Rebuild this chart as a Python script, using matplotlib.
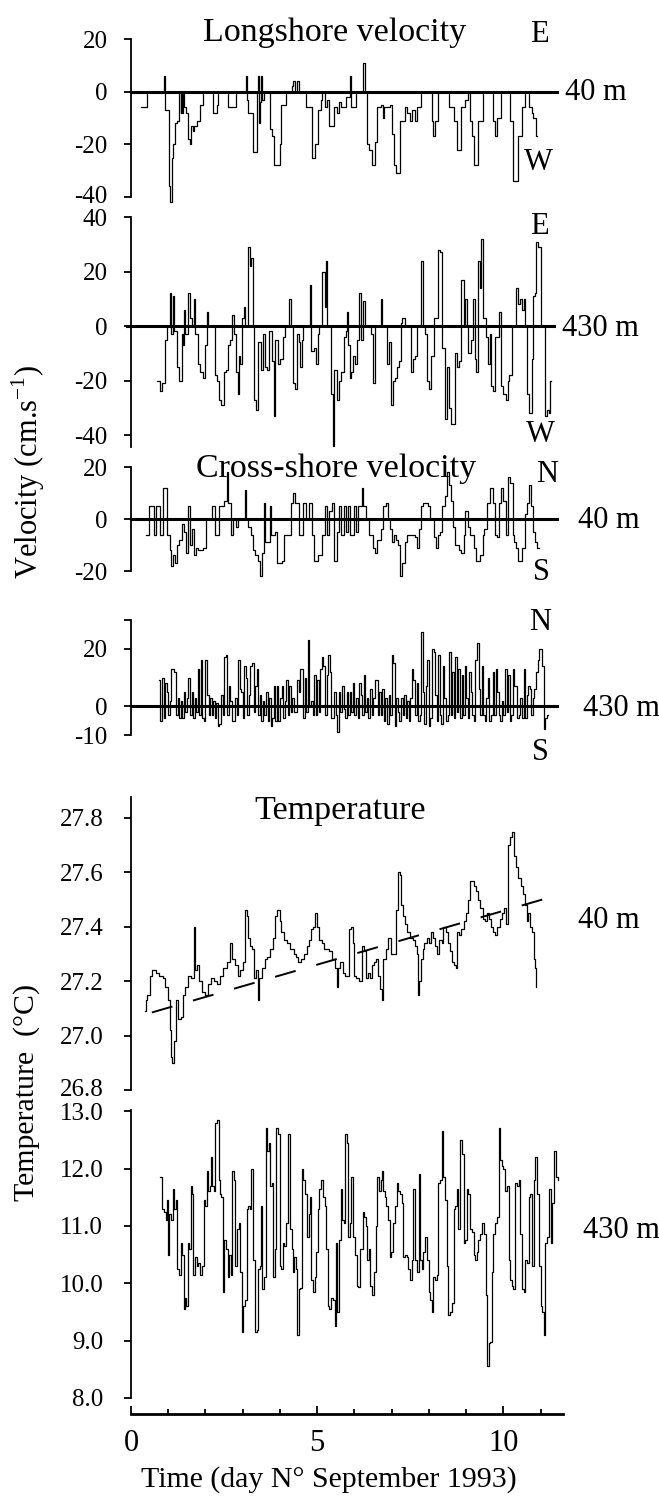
import numpy as np
import matplotlib
matplotlib.use('Agg')
import matplotlib.pyplot as plt
from matplotlib.ticker import FixedLocator, MultipleLocator, FormatStrFormatter

plt.rcParams['font.family'] = ['Liberation Serif', 'DejaVu Serif']
plt.rcParams['mathtext.fontset'] = 'custom'
plt.rcParams['mathtext.rm'] = 'Liberation Serif'
plt.rcParams['axes.unicode_minus'] = False

# ---------------------------------------------------------------------------
# data (time in days of September 1993)
# ---------------------------------------------------------------------------
# longshore velocity, 40 m (cm/s), step change points
long40_t = [0.28, 0.42, 0.88, 0.91, 1.02, 1.06, 1.10, 1.14, 1.18, 1.24,
            1.30, 1.33, 1.35, 1.38, 1.40, 1.43, 1.47, 1.53, 1.58, 1.62,
            1.66, 1.70, 1.76, 1.86, 1.92, 2.20, 2.30, 2.33, 2.60, 2.83,
            3.09, 3.12, 3.14, 3.28, 3.39, 3.41, 3.43, 3.47, 3.50, 3.53,
            3.56, 3.73, 3.79, 3.84, 3.99, 4.04, 4.16, 4.32, 4.36, 4.41,
            4.46, 4.52, 4.69, 4.86, 4.95, 5.03, 5.10, 5.14, 5.20, 5.26,
            5.33, 5.45, 5.52, 5.59, 5.65, 5.76, 5.88, 5.92, 6.05, 6.24,
            6.27, 6.33, 6.40, 6.46, 6.55, 6.61, 6.70, 6.76, 6.80, 6.95,
            7.01, 7.06, 7.12, 7.21, 7.35, 7.42, 7.48, 7.55, 7.62, 7.69,
            7.80, 8.08, 8.12, 8.17, 8.25, 8.53, 8.68, 8.76, 8.87, 8.98,
            9.04, 9.10, 9.15, 9.21, 9.32, 9.44, 9.72, 9.78, 9.83, 9.94,
            10.19, 10.26, 10.40, 10.51, 10.57, 10.68, 10.76, 10.80, 10.87, 10.90]
long40_v = [-6, 0, 6, -7, -36, -42, -25, -20, -12, -11,
            0, -8, 0, -8, 0, -6, -8, -18, -20, -13,
            -15, -13, -11, -5, 0, -8, -5, 0, -6, 0,
            6, -3, -8, -23, 0, 6, -12, -4, 6, -3,
            0, -14, -17, -28, -20, -5, 0, 2, 4, 0,
            4, 0, -6, -25, -20, -7, -3, 0, -6, -3,
            -13, -6, -8, -4, -6, -2, 6, -6, 0, 11,
            0, -20, -22, -28, -19, -6, -5, -10, -6, -5,
            -16, -28, -31, -11, -6, -8, -11, -7, -11, -6,
            0, -11, -17, -11, 0, -6, -11, -22, -6, -3,
            0, -11, -17, -28, -11, 0, -11, -17, -10, 0,
            -11, -34, -17, -6, 0, -6, -8, -10, -17, -17]

# longshore velocity, 430 m
long430_t = [0.70, 0.77, 0.83, 0.90, 0.97, 1.05, 1.08, 1.13, 1.16, 1.24,
             1.30, 1.36, 1.39, 1.42, 1.46, 1.53, 1.58, 1.64, 1.70, 1.73,
             1.79, 1.84, 1.92, 1.98, 2.03, 2.08, 2.26, 2.32, 2.37, 2.43,
             2.49, 2.54, 2.60, 2.66, 2.71, 2.77, 2.83, 2.86, 2.90, 2.94,
             2.97, 3.03, 3.07, 3.14, 3.19, 3.23, 3.28, 3.31, 3.36, 3.41,
             3.48, 3.54, 3.59, 3.65, 3.71, 3.79, 3.84, 3.88, 3.96, 4.01,
             4.07, 4.14, 4.25, 4.29, 4.35, 4.41, 4.46, 4.52, 4.55, 4.58,
             4.63, 4.80, 4.84, 4.92, 4.97, 5.01, 5.06, 5.14, 5.20, 5.23,
             5.27, 5.37, 5.42, 5.46, 5.54, 5.59, 5.65, 5.71, 5.76, 5.80,
             5.84, 5.88, 5.91, 5.97, 6.02, 6.07, 6.13, 6.17, 6.22, 6.27,
             6.44, 6.50, 6.55, 6.70, 6.75, 6.87, 6.93, 6.98, 7.04, 7.09,
             7.14, 7.20, 7.24, 7.29, 7.35, 7.52, 7.57, 7.63, 7.69, 7.80,
             7.83, 7.89, 7.94, 8.00, 8.06, 8.14, 8.25, 8.31, 8.36, 8.42,
             8.48, 8.53, 8.59, 8.70, 8.76, 8.81, 8.87, 8.93, 8.98, 9.02,
             9.06, 9.13, 9.19, 9.23, 9.27, 9.32, 9.38, 9.41, 9.46, 9.53,
             9.58, 9.63, 9.66, 9.72, 9.78, 9.89, 9.94, 10.00, 10.06, 10.11,
             10.16, 10.22, 10.34, 10.40, 10.45, 10.51, 10.54, 10.59, 10.62, 10.70,
             10.76, 10.79, 10.84, 10.88, 10.94, 11.00, 11.11, 11.17, 11.22, 11.26,
             11.28]
long430_v = [-20, -24, -21, -5, 0, 12, -3, 11, -2, -15,
             -20, -3, -7, 6, -3, 12, 3, 0, 10, -3,
             -14, -17, -19, -7, 5, 0, -18, -20, -27, -29,
             -17, -16, -7, -5, 4, -3, -17, -25, -11, -14,
             3, 7, 0, 29, 22, 25, 0, -27, -31, -6,
             -16, -3, -15, -16, -2, -13, -33, -5, -14, -12,
             -4, 0, 10, 0, -21, -23, -3, -6, -15, -5,
             0, 15, -9, -8, -14, -3, 0, 20, 7, 24,
             0, -25, -44, -16, -27, -20, -17, -4, -2, 5,
             -7, -19, -17, -11, -14, -5, 12, -5, 9, 0,
             -3, -21, 0, 10, 0, -14, -6, -29, -20, -19,
             -15, -13, 1, 3, 0, -17, -12, -11, 0, 24,
             0, -3, -20, -23, -11, 3, 28, 27, -8, -34,
             -15, -30, -36, -10, -15, -13, 17, 0, 10, 0,
             -10, -5, 10, -12, -17, 24, 14, 32, 3, -4,
             -14, -3, -22, -24, -4, 5, -22, -25, -27, -20,
             -18, 0, 14, 8, 10, 6, 10, 0, -25, -32,
             -12, 11, 12, 31, 29, 0, -33, -31, -32, -20,
             -20]

# cross-shore velocity, 40 m
cross40_t = [0.39, 0.47, 0.62, 0.68, 0.77, 0.85, 0.96, 1.05, 1.07, 1.13,
             1.19, 1.24, 1.30, 1.36, 1.41, 1.47, 1.53, 1.58, 1.64, 1.70,
             1.75, 1.81, 1.92, 2.01, 2.18, 2.26, 2.37, 2.49, 2.58, 2.61,
             2.69, 2.75, 2.83, 2.88, 3.05, 3.08, 3.14, 3.22, 3.28, 3.33,
             3.41, 3.47, 3.51, 3.56, 3.60, 3.73, 3.76, 3.86, 3.93, 4.05,
             4.12, 4.29, 4.35, 4.41, 4.52, 4.63, 4.69, 4.77, 4.86, 4.92,
             5.03, 5.14, 5.20, 5.26, 5.31, 5.39, 5.46, 5.54, 5.59, 5.65,
             5.71, 5.76, 5.82, 5.88, 5.99, 6.05, 6.10, 6.19, 6.24, 6.31,
             6.39, 6.50, 6.55, 6.61, 6.72, 6.78, 6.84, 6.89, 6.95, 7.01,
             7.06, 7.12, 7.18, 7.23, 7.27, 7.35, 7.40, 7.63, 7.69, 7.74,
             7.80, 7.85, 7.97, 8.02, 8.14, 8.19, 8.25, 8.31, 8.36, 8.42,
             8.48, 8.53, 8.59, 8.64, 8.70, 8.81, 8.87, 8.93, 8.98, 9.04,
             9.10, 9.21, 9.27, 9.38, 9.44, 9.49, 9.55, 9.64, 9.72, 9.78,
             9.83, 9.89, 9.94, 10.00, 10.06, 10.11, 10.19, 10.25, 10.28, 10.34,
             10.40, 10.51, 10.57, 10.62, 10.70, 10.74, 10.79, 10.85, 10.90, 10.96]
cross40_v = [-6, 5, -6, 5, -6, 12, -6, -12, -18, -14,
             -17, -10, -8, -2, -5, -13, 5, -10, -4, -14,
             -11, -12, -11, 0, 5, -6, 5, 7, 18, 6,
             -6, 0, -3, 0, 11, 0, -3, -6, -12, -14,
             -16, -22, -13, 6, -9, 5, -6, -5, -17, -16,
             -6, 6, 10, 6, -6, 6, 0, 6, -6, -16,
             -14, -6, 5, -6, 3, 6, -16, -5, 5, -6,
             5, -5, 5, -6, 5, -5, 5, 12, 5, 0,
             -6, -11, -13, -8, -4, 5, 6, 0, -4, -9,
             -6, -8, -10, -22, -17, -9, -6, -7, -11, -4,
             5, 6, 5, 0, -7, -11, -6, -5, 5, 9,
             18, 13, 7, -3, -10, -12, -13, -6, 3, -3,
             -6, -11, -16, -14, -6, -4, 6, 12, 6, -6,
             -7, 6, 12, 7, -6, 16, 14, -6, -9, -11,
             -16, -11, 2, 6, 13, 5, -5, -9, -11, -11]

# cross-shore velocity, 430 m: hourly samples from day 0.75
cross430_t0 = 0.75
cross430_v = [9, -5, 10, -4, 8, 5, -3, 2, 13, 13, 12, -3, 3, -4, 2, -4, 5, -2, 3, 10, -3, 5, -4, 3,
              -2, 13, -3, 16, -4, -5, 16, 4, -3, 3, -3, 2, -4, 1, -7, -6, 4, -3, 17, 18, -3, 7, 2, -5,
              -5, 3, -3, 16, 6, 5, -4, 14, 10, -3, 4, 14, 15, -2, 7, 13, -3, 4, -5, 2, -3, 5, -5, 3,
              -7, -4, 7, -5, 7, -5, 3, 7, -4, 2, 9, -3, 7, -2, 3, -2, -2, 9, 5, 13, 13, -4, 10, -2,
              23, 0, 2, -3, 11, -3, 9, -2, 13, 17, 14, -3, 11, 18, 12, -4, -4, 5, -3, -9, 5, -2, 7, -1,
              -4, 5, -3, 5, -2, 8, -3, 3, -4, 8, 4, -3, 11, -2, 3, -4, 6, -3, 3, 9, 9, -3, 5, -3,
              6, -5, 3, -6, 4, -3, 18, 15, -7, 3, -2, -5, 3, -3, 4, -4, 2, -5, 3, 13, 9, -3, 8, -5,
              -3, 26, 5, -6, 7, 16, -7, -4, 20, 19, 4, -5, 18, -3, -6, 14, 3, -5, -3, 19, -3, 12, -4, 17,
              -2, 13, -4, 11, -3, 14, 3, -4, 12, 5, -3, -5, 16, 22, 6, -3, 14, -3, -5, 3, 10, -5, -3, 12,
              -3, 13, 5, -3, -5, 2, -3, 13, -2, 11, -5, -3, 13, 7, 7, -4, -3, 3, -4, 13, -4, 4, 7, 6,
              -3, 3, 6, 12, 16, 20, 20, 14, -8, -4, -3, -3]

# temperature, 40 m (deg C)
temp40_t = [0.37, 0.40, 0.44, 0.50, 0.56, 0.66, 0.74, 0.85, 0.92, 0.99,
            1.04, 1.07, 1.11, 1.16, 1.21, 1.26, 1.33, 1.40, 1.46, 1.53,
            1.62, 1.69, 1.72, 1.77, 1.83, 1.90, 1.98, 2.06, 2.14, 2.22,
            2.30, 2.40, 2.48, 2.57, 2.66, 2.70, 2.78, 2.86, 2.92, 3.00,
            3.07, 3.12, 3.15, 3.20, 3.26, 3.31, 3.36, 3.41, 3.44, 3.52,
            3.59, 3.66, 3.73, 3.80, 3.87, 3.93, 3.99, 4.04, 4.11, 4.20,
            4.28, 4.37, 4.44, 4.49, 4.57, 4.65, 4.72, 4.78, 4.83, 4.89,
            4.95, 5.00, 5.06, 5.12, 5.18, 5.26, 5.33, 5.41, 5.47, 5.52,
            5.55, 5.62, 5.68, 5.74, 5.80, 5.86, 5.91, 5.95, 6.00, 6.05,
            6.12, 6.19, 6.25, 6.30, 6.36, 6.42, 6.47, 6.53, 6.58, 6.63,
            6.68, 6.73, 6.78, 6.84, 6.90, 6.97, 7.05, 7.12, 7.16, 7.21,
            7.26, 7.31, 7.36, 7.41, 7.48, 7.56, 7.62, 7.67, 7.71, 7.74,
            7.78, 7.83, 7.88, 7.94, 8.00, 8.05, 8.11, 8.17, 8.22, 8.28,
            8.34, 8.39, 8.45, 8.51, 8.56, 8.62, 8.67, 8.72, 8.76, 8.82,
            8.87, 8.93, 8.99, 9.05, 9.10, 9.16, 9.22, 9.27, 9.33, 9.38,
            9.44, 9.50, 9.56, 9.61, 9.67, 9.73, 9.78, 9.84, 9.90, 9.95,
            10.01, 10.07, 10.12, 10.18, 10.23, 10.29, 10.35, 10.40, 10.46, 10.52,
            10.57, 10.62, 10.67, 10.71, 10.77, 10.81, 10.85, 10.87, 10.88]
temp40_v = [27.09, 27.13, 27.15, 27.22, 27.24, 27.23, 27.22, 27.21, 27.18, 27.13,
            27.02, 26.92, 26.90, 26.98, 27.13, 27.06, 27.07, 27.15, 27.18, 27.22,
            27.21, 27.40, 27.24, 27.26, 27.20, 27.16, 27.15, 27.19, 27.21, 27.20,
            27.19, 27.22, 27.25, 27.27, 27.34, 27.28, 27.26, 27.22, 27.24, 27.27,
            27.46, 27.44, 27.36, 27.33, 27.32, 27.21, 27.24, 27.13, 27.21, 27.25,
            27.28, 27.29, 27.32, 27.36, 27.44, 27.46, 27.42, 27.38, 27.35, 27.34,
            27.32, 27.30, 27.29, 27.27, 27.28, 27.30, 27.33, 27.35, 27.39, 27.40,
            27.45, 27.40, 27.35, 27.34, 27.32, 27.32, 27.31, 27.28, 27.25, 27.18,
            27.25, 27.27, 27.23, 27.22, 27.22, 27.39, 27.40, 27.34, 27.22, 27.21,
            27.20, 27.33, 27.31, 27.21, 27.23, 27.21, 27.26, 27.27, 27.28, 27.22,
            27.17, 27.13, 27.28, 27.32, 27.36, 27.30, 27.30, 27.46, 27.60, 27.59,
            27.48, 27.44, 27.41, 27.38, 27.36, 27.35, 27.33, 27.30, 27.15, 27.20,
            27.28, 27.32, 27.34, 27.36, 27.34, 27.38, 27.36, 27.33, 27.30, 27.35,
            27.34, 27.40, 27.38, 27.34, 27.31, 27.27, 27.26, 27.25, 27.38, 27.37,
            27.39, 27.42, 27.45, 27.50, 27.57, 27.57, 27.55, 27.53, 27.50, 27.47,
            27.43, 27.42, 27.45, 27.43, 27.40, 27.38, 27.37, 27.40, 27.43, 27.45,
            27.47, 27.41, 27.70, 27.73, 27.75, 27.66, 27.62, 27.58, 27.55, 27.52,
            27.48, 27.42, 27.45, 27.40, 27.38, 27.28, 27.25, 27.18, 27.18]

# linear trend drawn over the 40 m temperature
trend_t = [0.56, 11.55]
trend_v = [27.085, 27.52]

# temperature, 430 m
temp430_t = [0.79, 0.82, 0.88, 0.93, 0.96, 0.99, 1.02, 1.07, 1.13, 1.16,
             1.21, 1.24, 1.28, 1.33, 1.38, 1.41, 1.45, 1.49, 1.53, 1.56,
             1.61, 1.64, 1.67, 1.72, 1.76, 1.81, 1.86, 1.91, 1.95, 2.00,
             2.03, 2.08, 2.12, 2.15, 2.18, 2.23, 2.26, 2.30, 2.35, 2.38,
             2.43, 2.46, 2.51, 2.55, 2.60, 2.63, 2.68, 2.71, 2.76, 2.80,
             2.85, 2.89, 2.94, 2.98, 3.02, 3.06, 3.11, 3.15, 3.19, 3.23,
             3.28, 3.32, 3.37, 3.41, 3.46, 3.49, 3.53, 3.57, 3.62, 3.66,
             3.71, 3.74, 3.79, 3.82, 3.87, 3.90, 3.94, 3.99, 4.03, 4.07,
             4.11, 4.17, 4.22, 4.26, 4.31, 4.34, 4.37, 4.42, 4.46, 4.51,
             4.55, 4.59, 4.63, 4.68, 4.72, 4.77, 4.80, 4.84, 4.88, 4.93,
             4.97, 5.02, 5.05, 5.11, 5.15, 5.20, 5.24, 5.29, 5.33, 5.38,
             5.42, 5.47, 5.50, 5.54, 5.58, 5.63, 5.67, 5.72, 5.75, 5.80,
             5.83, 5.88, 5.92, 5.97, 6.01, 6.06, 6.10, 6.16, 6.22, 6.26,
             6.30, 6.34, 6.39, 6.43, 6.48, 6.52, 6.57, 6.61, 6.66, 6.70,
             6.75, 6.78, 6.83, 6.86, 6.90, 6.95, 6.99, 7.04, 7.09, 7.13,
             7.18, 7.22, 7.27, 7.31, 7.36, 7.40, 7.45, 7.49, 7.54, 7.58,
             7.63, 7.67, 7.72, 7.76, 7.81, 7.85, 7.90, 7.94, 7.99, 8.04,
             8.08, 8.11, 8.16, 8.21, 8.25, 8.30, 8.34, 8.38, 8.43, 8.48,
             8.52, 8.57, 8.61, 8.66, 8.70, 8.75, 8.79, 8.84, 8.88, 8.93,
             8.97, 9.02, 9.06, 9.11, 9.15, 9.20, 9.24, 9.29, 9.33, 9.38,
             9.43, 9.47, 9.52, 9.56, 9.60, 9.64, 9.69, 9.73, 9.78, 9.82,
             9.87, 9.91, 9.96, 10.00, 10.05, 10.09, 10.14, 10.18, 10.23, 10.27,
             10.32, 10.36, 10.41, 10.45, 10.50, 10.54, 10.59, 10.63, 10.68, 10.72,
             10.77, 10.82, 10.86, 10.91, 10.95, 11.00, 11.04, 11.09, 11.13, 11.18,
             11.22, 11.27, 11.31, 11.36, 11.40, 11.47]
temp430_v = [11.85, 11.30, 11.25, 11.10, 11.45, 10.50, 11.20, 11.10, 11.65, 11.30,
             11.45, 10.25, 10.15, 10.70, 10.50, 9.55, 9.75, 9.60, 10.70, 10.60,
             11.70, 11.55, 10.15, 10.45, 10.30, 10.35, 10.15, 10.30, 11.45, 11.35,
             11.95, 11.60, 11.70, 12.20, 11.70, 11.60, 12.80, 12.85, 11.80, 11.55,
             11.50, 9.85, 10.75, 10.60, 10.10, 10.50, 10.15, 11.95, 11.80, 10.30,
             10.95, 11.05, 10.20, 9.15, 9.60, 9.70, 11.30, 11.35, 11.30, 12.00,
             10.40, 9.15, 9.18, 10.25, 10.30, 11.35, 9.90, 10.10, 12.70, 12.30,
             12.45, 11.70, 11.75, 10.10, 10.60, 12.70, 12.60, 10.30, 10.25, 10.70,
             10.65, 11.05, 12.60, 10.95, 10.60, 10.20, 10.45, 10.25, 9.10, 9.90,
             9.92, 12.00, 11.80, 11.55, 10.80, 11.20, 11.50, 10.05, 9.85, 10.10,
             10.55, 11.30, 11.65, 11.80, 11.50, 11.35, 10.60, 9.60, 9.55, 9.75,
             9.70, 9.25, 10.70, 9.50, 10.75, 11.65, 11.10, 11.05, 12.60, 12.45,
             10.80, 11.05, 11.85, 10.80, 10.50, 9.95, 9.93, 10.60, 11.25, 11.15,
             11.00, 10.40, 10.60, 9.95, 9.80, 10.20, 11.00, 11.85, 11.60, 11.80,
             11.95, 11.60, 11.50, 11.35, 11.10, 10.45, 10.55, 11.05, 11.35, 11.75,
             11.60, 11.55, 11.40, 10.45, 10.50, 10.45, 10.25, 10.05, 10.40, 11.65,
             10.40, 10.20, 11.90, 10.40, 10.25, 10.55, 10.80, 10.40, 9.85, 9.70,
             9.50, 10.10, 10.05, 10.15, 11.75, 11.80, 12.65, 11.85, 11.45, 10.30,
             9.45, 9.50, 9.65, 11.30, 11.35, 11.65, 10.95, 12.50, 12.25, 10.70,
             10.75, 11.65, 11.55, 10.95, 10.90, 10.50, 10.40, 10.55, 10.75, 10.85,
             11.05, 10.85, 9.80, 8.55, 8.95, 8.97, 10.20, 10.85, 11.05, 11.15,
             12.70, 12.15, 12.05, 12.00, 11.60, 11.70, 10.40, 10.05, 9.95, 9.90,
             11.75, 11.70, 11.80, 10.85, 9.90, 9.85, 10.40, 10.35, 11.50, 11.55,
             10.30, 11.80, 12.20, 11.55, 10.30, 9.60, 9.50, 9.10, 10.70, 10.80,
             11.65, 10.70, 11.40, 12.30, 11.85, 11.80]

# ---------------------------------------------------------------------------
W_PX, H_PX = 659, 1506
fig = plt.figure(figsize=(W_PX / 100, H_PX / 100), dpi=100)

X_LEFT, X_RIGHT = 131, 563     # pixel extent of the time axis
XMAX = 11.6


def fx(x):
    return x / W_PX


def fy(y):
    return 1 - y / H_PX


def make_axes(top, bottom):
    ax = fig.add_axes([fx(X_LEFT), fy(bottom), (X_RIGHT - X_LEFT) / W_PX,
                       (bottom - top) / H_PX])
    ax.set_xlim(0, XMAX)
    for s in ['top', 'right', 'bottom']:
        ax.spines[s].set_visible(False)
    ax.spines['left'].set_linewidth(1.3)
    ax.xaxis.set_visible(False)
    ax.tick_params(axis='y', direction='out', length=5, width=1.3,
                   pad=12, labelsize=18)
    ax.patch.set_alpha(0)
    return ax


def center_labels(ax, keep_center=None):
    # digits centred on their ticks; the lowest label of a panel that
    # touches the next one stays a little higher, as in the original
    labs = ax.get_yticklabels()
    for i, lab in enumerate(labs):
        lab.set_verticalalignment('center' if i == keep_center else 'center_baseline')


LW = 0.9

# longshore 40 m
ax1 = make_axes(39, 197)
ax1.set_ylim(-40, 20)
ax1.set_yticks([-40, -20, 0, 20])
center_labels(ax1, keep_center=0)
ax1.axhline(0, xmin=0.0, xmax=0.985, color='k', lw=2.2)
ax1.step(long40_t, long40_v, where='post', color='k', lw=LW, clip_on=False)

# longshore 430 m
ax2 = make_axes(217, 447)
ax2.set_ylim(-44.4, 40)
ax2.set_yticks([-40, -20, 0, 20, 40])
center_labels(ax2)
ax2.axhline(0, xmin=-0.01, xmax=0.98, color='k', lw=2.2, clip_on=False)
ax2.step(long430_t, long430_v, where='post', color='k', lw=LW, clip_on=False)

# cross-shore 40 m
ax3 = make_axes(467, 571)
ax3.set_ylim(-20, 20)
ax3.set_yticks([-20, 0, 20])
center_labels(ax3)
ax3.axhline(0, xmin=0.0, xmax=0.985, color='k', lw=2.2)
ax3.step(cross40_t, cross40_v, where='post', color='k', lw=LW, clip_on=False)

# cross-shore 430 m
ax4 = make_axes(620, 735)
ax4.set_ylim(-10, 30)
ax4.set_yticks([-10, 0, 20, 30], labels=['-10', '0', '20', ''])
center_labels(ax4)
ax4.axhline(0, xmin=0.0, xmax=0.985, color='k', lw=2.2)
cross430_t = cross430_t0 + np.arange(len(cross430_v)) / 24.0
ax4.step(cross430_t, cross430_v, where='post', color='k', lw=LW, clip_on=False)

# temperature 40 m
ax5 = make_axes(797, 1090)
ax5.set_ylim(26.8, 27.877)
ax5.set_yticks(np.arange(26.8, 27.81, 0.2))
ax5.yaxis.set_major_formatter(FormatStrFormatter('%.1f'))
ax5.tick_params(axis='y', pad=15)
center_labels(ax5, keep_center=0)
ax5.step(temp40_t, temp40_v, where='post', color='k', lw=LW, clip_on=False)
ax5.plot(trend_t, trend_v, color='k', lw=1.4, linestyle=(0, (11, 11)))

# temperature 430 m (carries the time axis)
ax6 = make_axes(1110, 1414)
ax6.set_ylim(7.72, 13.02)
ax6.set_yticks(np.arange(8, 13.01, 1.0))
ax6.yaxis.set_major_formatter(FormatStrFormatter('%.1f'))
ax6.tick_params(axis='y', pad=15)
center_labels(ax6)
ax6.spines['left'].set_bounds(8, 13.02)
ax6.spines['bottom'].set_visible(True)
ax6.spines['bottom'].set_linewidth(2.0)
ax6.xaxis.set_visible(True)
ax6.xaxis.set_major_locator(FixedLocator([0, 5, 10]))
ax6.xaxis.set_minor_locator(MultipleLocator(1))
ax6.tick_params(axis='x', which='major', direction='in', length=6, width=1.3,
                pad=11, labelsize=22)
ax6.tick_params(axis='x', which='minor', direction='in', length=3.5, width=1.3)
ax6.step(temp430_t, temp430_v, where='post', color='k', lw=LW, clip_on=False)

# titles and labels
fig.text(fx(335), fy(41), 'Longshore velocity', ha='center', va='baseline', fontsize=24.5)
fig.text(fx(336), fy(477), 'Cross-shore velocity', ha='center', va='baseline', fontsize=24.5)
fig.text(fx(340), fy(819), 'Temperature', ha='center', va='baseline', fontsize=24.5)

fig.text(fx(28), fy(472), 'Velocity (cm.s$^{-1}$)', rotation=90,
         ha='center', va='center', fontsize=22)
fig.text(fx(27), fy(1092), 'Temperature  (°C)', rotation=90,
         ha='center', va='center', fontsize=21.5)
fig.text(fx(329), fy(1487), 'Time (day N° September 1993)', ha='center',
         va='baseline', fontsize=21.5)

# depth labels on the right
for x, y, s in [(565, 93, '40 m'), (562, 328, '430 m'), (578, 521, '40 m'),
                (583, 708, '430 m'), (578, 921, '40 m'), (583, 1230, '430 m')]:
    fig.text(fx(x), fy(y), s, ha='left', va='center', fontsize=22)

# direction letters
for x, y, s in [(539, 35, 'E'), (538, 163, 'W'), (539, 227, 'E'), (540, 434, 'W'),
                (547, 475, 'N'), (541, 572, 'S'), (540, 622, 'N'), (540, 753, 'S')]:
    fig.text(fx(x), fy(y), s, ha='center', va='center', fontsize=22)

fig.savefig('out.png', dpi=100)
